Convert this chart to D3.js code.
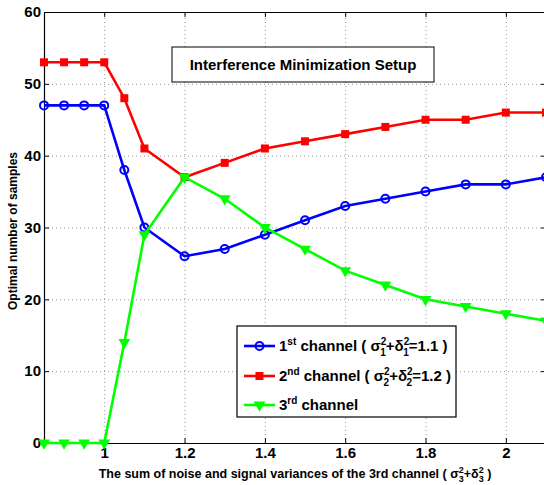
<!DOCTYPE html>
<html>
<head>
<meta charset="utf-8">
<script src="https://cdn.jsdelivr.net/npm/d3@7"></script>
<style>
  body { margin: 0; background: #fff; }
  svg { font-family: "Liberation Sans", Arial, sans-serif; font-weight: bold; }
  .grid line { stroke: #999; stroke-dasharray: 1,3; }
  .grid .domain { display: none; }
  .axis text { font-size: 15px; font-weight: bold; fill: #000; }
  .axis path, .axis line { stroke: #000; }
</style>
</head>
<body>
<svg width="544" height="485"></svg>
<script>
var xs = [0.85, 0.9, 0.95, 1.0, 1.05, 1.1, 1.2, 1.3, 1.4, 1.5, 1.6, 1.7, 1.8, 1.9, 2.0, 2.1];
var ch1 = [47, 47, 47, 47, 38, 30, 26, 27, 29, 31, 33, 34, 35, 36, 36, 37];
var ch2 = [53, 53, 53, 53, 48, 41, 37, 39, 41, 42, 43, 44, 45, 45, 46, 46];
var ch3 = [0, 0, 0, 0, 14, 29, 37, 34, 30, 27, 24, 22, 20, 19, 18, 17];
var xTicks = [1, 1.2, 1.4, 1.6, 1.8, 2];
var yTicks = [0, 10, 20, 30, 40, 50, 60];
var colors = ["#0000ff", "#ff0000", "#00ff00"];

var svg = d3.select("svg"),
    margin = {top: 12, right: -2, bottom: 42, left: 44},
    width = +svg.attr("width") - margin.left - margin.right,
    height = +svg.attr("height") - margin.top - margin.bottom,
    g = svg.append("g").attr("transform", "translate(" + margin.left + "," + margin.top + ")");

var x = d3.scaleLinear().domain([0.85, 2.1]).range([0, width]),
    y = d3.scaleLinear().domain([0, 60]).range([height, 0]);

// dotted grid
g.append("g").attr("class", "grid")
    .attr("transform", "translate(0," + height + ")")
    .call(d3.axisBottom(x).tickValues(xTicks).tickSize(-height).tickFormat(""));
g.append("g").attr("class", "grid")
    .call(d3.axisLeft(y).tickValues(yTicks).tickSize(-width).tickFormat(""));

// axes, ticks pointing inward
g.append("g").attr("class", "axis")
    .attr("transform", "translate(0," + height + ")")
    .call(d3.axisBottom(x).tickValues(xTicks).tickSizeInner(-5).tickSizeOuter(0).tickPadding(4).tickFormat(d3.format("")));
g.append("g").attr("class", "axis")
    .call(d3.axisTop(x).tickValues(xTicks).tickSizeInner(-5).tickSizeOuter(0).tickFormat(""));
g.append("g").attr("class", "axis")
    .call(d3.axisLeft(y).tickValues(yTicks).tickSizeInner(-5).tickSizeOuter(0).tickPadding(3));
g.append("g").attr("class", "axis")
    .attr("transform", "translate(" + width + ",0)")
    .call(d3.axisRight(y).tickValues(yTicks).tickSizeInner(-5).tickSizeOuter(0).tickFormat(""));
g.selectAll(".axis .domain").attr("stroke-width", 1.2);

var line = d3.line()
    .x(function(d) { return x(d.x); })
    .y(function(d) { return y(d.y); });

var series = [ch1, ch2, ch3].map(function(vals, i) {
  return {id: i, values: xs.map(function(v, j) { return {x: v, y: vals[j]}; })};
});

var tri = d3.symbol().type(d3.symbolTriangle).size(60)();

function marker(sel, id) {
  if (id === 0) {
    sel.append("circle").attr("r", 4).attr("fill", "none")
        .attr("stroke", colors[0]).attr("stroke-width", 2);
  } else if (id === 1) {
    sel.append("rect").attr("x", -4).attr("y", -4).attr("width", 8).attr("height", 8)
        .attr("fill", colors[1]);
  } else {
    sel.append("path").attr("d", tri).attr("transform", "rotate(180)")
        .attr("fill", colors[2]);
  }
}

series.forEach(function(s) {
  g.append("path")
      .attr("d", line(s.values))
      .attr("fill", "none")
      .attr("stroke", colors[s.id])
      .attr("stroke-width", 2.6);
  g.selectAll(".m" + s.id)
    .data(s.values)
    .enter().append("g")
      .attr("class", "m" + s.id)
      .attr("transform", function(d) { return "translate(" + x(d.x) + "," + y(d.y) + ")"; })
      .each(function() { marker(d3.select(this), s.id); });
});

// title box
svg.append("rect")
    .attr("x", 172).attr("y", 47).attr("width", 262).attr("height", 35)
    .attr("fill", "#fff").attr("stroke", "#000").attr("stroke-width", 1);
svg.append("text")
    .attr("x", 303).attr("y", 70)
    .attr("text-anchor", "middle")
    .style("font-size", "15px")
    .text("Interference Minimization Setup");

// legend
svg.append("rect")
    .attr("x", 237).attr("y", 326).attr("width", 219).attr("height", 91)
    .attr("fill", "#fff").attr("stroke", "#000").attr("stroke-width", 1.2);

var legend = svg.selectAll(".legend")
    .data([0, 1, 2])
    .enter().append("g")
      .attr("class", "legend")
      .attr("transform", function(d, i) { return "translate(244," + [346, 376, 405][i] + ")"; });

legend.append("line")
    .attr("x1", 0).attr("x2", 31)
    .attr("stroke", function(d) { return colors[d]; })
    .attr("stroke-width", 2.6);
legend.append("g")
    .attr("transform", "translate(15.5,0)")
    .each(function(d) { marker(d3.select(this), d); });

var ords = ["st", "nd", "rd"];
var vals = ["1.1", "1.2", null];

legend.each(function(d, i) {
  var t = d3.select(this).append("text")
      .attr("x", 35).attr("y", 5)
      .style("font-size", "15px");
  t.append("tspan").text(String(i + 1));
  t.append("tspan").attr("dy", -6).style("font-size", "10px").text(ords[i]);
  t.append("tspan").attr("dy", 6).text(" channel");
  if (vals[i]) {
    var k = String(i + 1);
    t.append("tspan").text(" ( σ");
    t.append("tspan").attr("dy", -6).style("font-size", "10px").text("2");
    t.append("tspan").attr("dx", -6).attr("dy", 11).style("font-size", "10px").text(k);
    t.append("tspan").attr("dy", -5).text("+δ");
    t.append("tspan").attr("dy", -6).style("font-size", "10px").text("2");
    t.append("tspan").attr("dx", -6).attr("dy", 11).style("font-size", "10px").text(k);
    t.append("tspan").attr("dy", -5).text("=" + vals[i] + " )");
  }
});

// axis labels
var xl = svg.append("text")
    .attr("x", 295).attr("y", 478)
    .attr("text-anchor", "middle")
    .style("font-size", "12.5px");
xl.append("tspan").text("The sum of noise and signal variances of the 3rd channel ( σ");
xl.append("tspan").attr("dy", -5).style("font-size", "9px").text("2");
xl.append("tspan").attr("dx", -5).attr("dy", 9).style("font-size", "9px").text("3");
xl.append("tspan").attr("dy", -4).text("+δ");
xl.append("tspan").attr("dy", -5).style("font-size", "9px").text("2");
xl.append("tspan").attr("dx", -5).attr("dy", 9).style("font-size", "9px").text("3");
xl.append("tspan").attr("dy", -4).text(" )");

svg.append("text")
    .attr("transform", "translate(17,231) rotate(-90)")
    .attr("text-anchor", "middle")
    .style("font-size", "12px")
    .text("Optimal number of samples");
</script>
</body>
</html>
